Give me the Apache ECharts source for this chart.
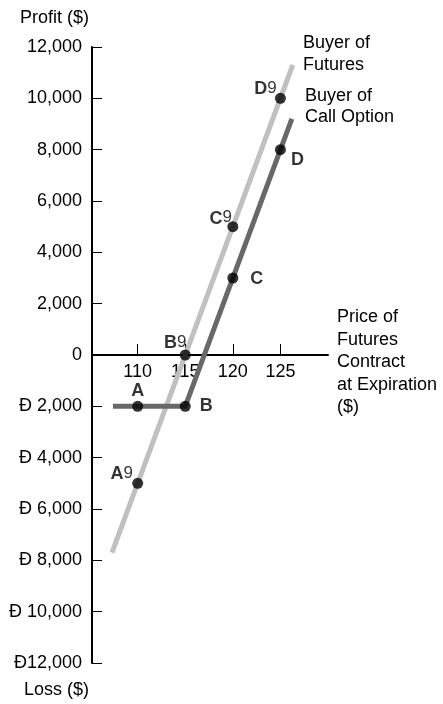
<!DOCTYPE html>
<html>
<head>
<meta charset="utf-8">
<script src="https://cdn.jsdelivr.net/npm/echarts@6/dist/echarts.min.js"></script>
<style>html,body{margin:0;padding:0;background:#fff;}#c{width:443px;height:704px;}</style>
</head>
<body>
<div id="c"></div>
<script>
// ---- data ----
const xTicks = [110, 115, 120, 125];
const yTickLabels = ['Ð12,000','Ð 10,000','Ð 8,000','Ð 6,000','Ð 4,000','Ð 2,000','0','2,000','4,000','6,000','8,000','10,000','12,000'];
const futuresPrice = [107.3, 126.3];
const futuresProfit = [-7700, 11300];
const callPrice = [107.4, 115, 126.2];
const callProfit = [-2000, -2000, 9200];
const pointLetters = ['A', 'B', 'C', 'D', 'A', 'B', 'C', 'D'];
const pointPrimes = ['', '', '', '', '9', '9', '9', '9'];
const pointPrice = [110, 115, 120, 125, 110, 115, 120, 125];
const pointProfit = [-2000, -2000, 3000, 8000, -5000, 0, 5000, 10000];

// ---- layout (label offsets from dot centre) ----
const labelOffsets = [[0,-15],[21,0],[24,1],[17,10],[-16,-9],[-10,-12],[-12,-8],[-15,-9]];

const FONT = '"Liberation Sans", Arial, Helvetica, sans-serif';
const chart = echarts.init(document.getElementById('c'), null, {renderer: 'canvas'});

const scatterData = pointPrice.map((x, i) => ({
  value: [x, pointProfit[i]],
  label: {
    show: true,
    position: 'inside',
    align: 'center',
    verticalAlign: 'middle',
    offset: labelOffsets[i],
    formatter: '{b|' + pointLetters[i] + '}' + (pointPrimes[i] ? '{p|' + pointPrimes[i] + '}' : ''),
    rich: {
      b: {fontFamily: FONT, fontWeight: 'bold', fontSize: 18, color: '#000'},
      p: {fontFamily: FONT, fontWeight: 'normal', fontSize: 17, color: '#000', padding: [0,0,2,0]}
    }
  }
}));

const GRID_TOP = 47, GRID_H = 616;
const option = {
  animation: false,
  backgroundColor: '#fff',
  grid: {left: 92, top: GRID_TOP, width: 236, height: GRID_H},
  xAxis: {
    type: 'value',
    min: 105.2,
    max: 130,
    position: 'bottom',
    offset: -GRID_H / 2,
    axisLine: {onZero: false, lineStyle: {color: '#000', width: 2}},
    axisTick: {show: true, inside: true, length: 11, customValues: xTicks, lineStyle: {color: '#000', width: 1}},
    axisLabel: {show: true, customValues: xTicks, margin: 8, fontFamily: FONT, fontSize: 18, color: '#000'},
    splitLine: {show: false}
  },
  yAxis: {
    type: 'value',
    min: -12000,
    max: 12000,
    interval: 2000,
    axisLine: {show: true, onZero: false, lineStyle: {color: '#000', width: 2}},
    axisTick: {show: true, inside: true, length: 10, lineStyle: {color: '#000', width: 1}},
    axisLabel: {
      margin: 10, fontFamily: FONT, fontSize: 18, color: '#000',
      formatter: v => yTickLabels[Math.round((v + 12000) / 2000)]
    },
    splitLine: {show: false}
  },
  series: [
    {
      type: 'line',
      data: futuresPrice.map((x, i) => [x, futuresProfit[i]]),
      symbol: 'none',
      lineStyle: {color: '#c0c0c0', width: 5, cap: 'butt'},
      z: 2
    },
    {
      type: 'line',
      data: callPrice.map((x, i) => [x, callProfit[i]]),
      symbol: 'none',
      lineStyle: {color: '#686868', width: 5, cap: 'butt', join: 'miter'},
      z: 3
    },
    {
      type: 'scatter',
      data: scatterData,
      symbol: 'circle',
      symbolSize: 11,
      itemStyle: {color: '#000'},
      z: 5
    }
  ],
  graphic: [
    {type: 'text', left: 20, top: 9, style: {text: 'Profit ($)', font: '18px ' + FONT, fill: '#000'}},
    {type: 'text', left: 24, top: 681, style: {text: 'Loss ($)', font: '18px ' + FONT, fill: '#000'}},
    {type: 'text', left: 303, top: 32, style: {text: 'Buyer of\nFutures', font: '18px ' + FONT, lineHeight: 22, fill: '#000'}},
    {type: 'text', left: 305, top: 86, style: {text: 'Buyer of\nCall Option', font: '18px ' + FONT, lineHeight: 21, fill: '#000'}},
    {type: 'text', left: 337, top: 306, style: {text: 'Price of\nFutures\nContract\nat Expiration\n($)', font: '18px ' + FONT, lineHeight: 22.5, fill: '#000'}}
  ]
};
chart.setOption(option);
</script>
</body>
</html>
